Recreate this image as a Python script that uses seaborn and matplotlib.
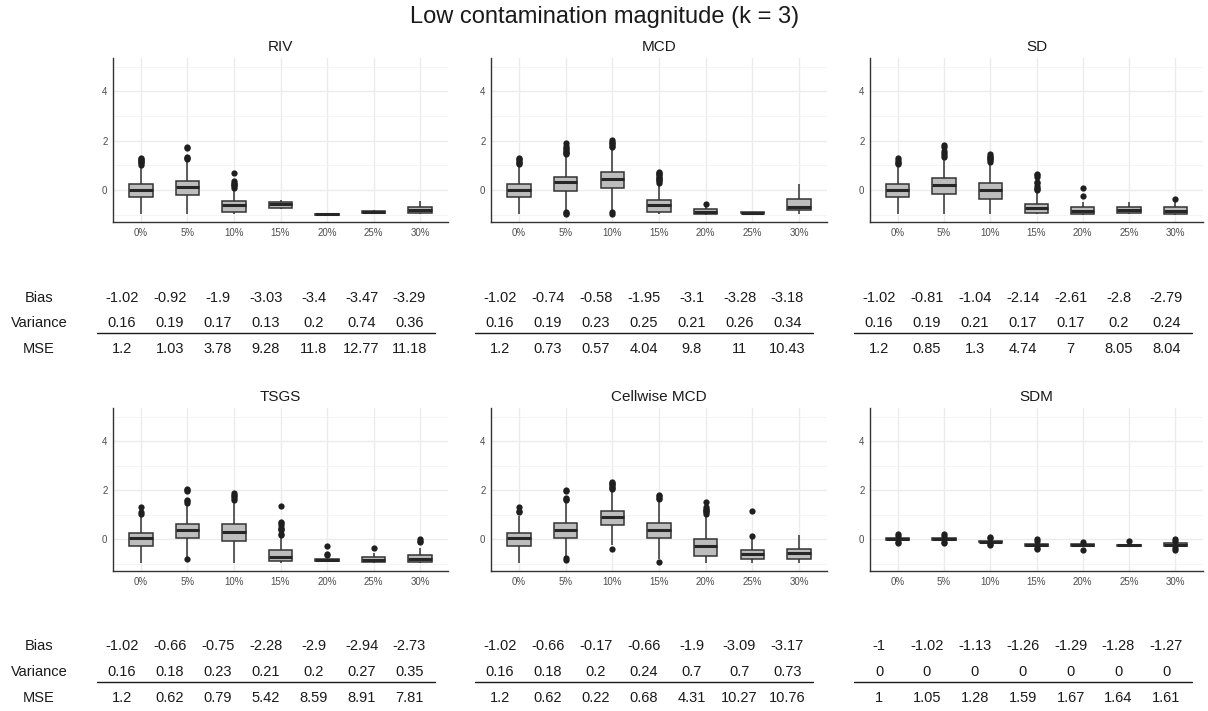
import numpy as np
import pandas as pd
import matplotlib
matplotlib.use("Agg")
import matplotlib.pyplot as plt
from matplotlib.lines import Line2D
from matplotlib.ticker import FixedLocator
import seaborn as sns

# ---------------- data ----------------
levels = ["0%", "5%", "10%", "15%", "20%", "25%", "30%"]
methods = ["RIV", "MCD", "SD", "TSGS", "Cellwise MCD", "SDM"]
suptitle = "Low contamination magnitude (k = 3)"
row_labels = ["Bias", "Variance", "MSE"]

# box summaries: whisker low, Q1, median, Q3, whisker high, outliers
riv_lo = [-0.97, -0.97, -0.95, -0.76, -1.01, -0.93, -0.95]
riv_q1 = [-0.27, -0.18, -0.88, -0.72, -1.00, -0.92, -0.92]
riv_med = [0.0, 0.12, -0.61, -0.57, -0.98, -0.88, -0.81]
riv_q3 = [0.23, 0.38, -0.45, -0.50, -0.96, -0.84, -0.69]
riv_hi = [0.98, 1.18, 0.05, -0.41, -0.95, -0.79, -0.45]
riv_out = [[1.03, 1.08, 1.13, 1.18, 1.23, 1.28, 1.32], [1.25, 1.3, 1.35, 1.7, 1.75],
           [0.1, 0.15, 0.2, 0.25, 0.3, 0.35, 0.7], [], [], [], []]

mcd_lo = [-0.95, -0.8, -0.85, -0.95, -0.99, -0.94, -0.95]
mcd_q1 = [-0.27, -0.03, 0.07, -0.88, -0.97, -0.935, -0.82]
mcd_med = [0.0, 0.31, 0.47, -0.61, -0.88, -0.92, -0.68]
mcd_q3 = [0.23, 0.53, 0.72, -0.41, -0.78, -0.905, -0.34]
mcd_hi = [1.0, 1.35, 1.65, 0.25, -0.68, -0.9, 0.24]
mcd_out = [[1.05, 1.1, 1.15, 1.2, 1.25, 1.3],
           [-0.87, -0.92, -0.96, 1.45, 1.5, 1.55, 1.6, 1.65, 1.7, 1.8, 1.9],
           [-0.9, -0.95, 1.75, 1.8, 1.85, 1.9, 1.95, 2.03],
           [0.3, 0.35, 0.4, 0.45, 0.5, 0.55, 0.6, 0.65, 0.7, 0.75],
           [-0.56], [], []]

sd_lo = [-0.97, -0.97, -0.97, -0.97, -0.99, -0.95, -0.99]
sd_q1 = [-0.27, -0.14, -0.34, -0.92, -0.97, -0.92, -0.97]
sd_med = [0.0, 0.22, 0.0, -0.73, -0.85, -0.81, -0.84]
sd_q3 = [0.23, 0.49, 0.30, -0.55, -0.69, -0.69, -0.69]
sd_hi = [1.0, 1.3, 1.1, -0.05, -0.47, -0.5, -0.47]
sd_out = [[1.05, 1.1, 1.15, 1.2, 1.3], [1.35, 1.42, 1.5, 1.6, 1.75, 1.83],
          [1.15, 1.2, 1.25, 1.3, 1.35, 1.4, 1.45],
          [0.0, 0.05, 0.1, 0.17, 0.3, 0.34, 0.55, 0.6, 0.65],
          [-0.24, 0.1], [], [-0.34]]

tsgs_lo = [-0.95, -0.7, -0.95, -0.95, -0.92, -0.96, -0.97]
tsgs_q1 = [-0.27, 0.05, -0.08, -0.87, -0.88, -0.94, -0.94]
tsgs_med = [0.06, 0.4, 0.3, -0.71, -0.85, -0.85, -0.8]
tsgs_q3 = [0.27, 0.62, 0.62, -0.44, -0.82, -0.74, -0.63]
tsgs_hi = [0.95, 1.45, 1.55, 0.1, -0.8, -0.54, -0.36]
tsgs_out = [[1.05, 1.1, 1.3], [-0.8, 1.5, 1.55, 1.6, 1.95, 2.0, 2.05],
            [1.6, 1.7, 1.75, 1.8, 1.9],
            [0.17, 0.22, 0.38, 0.42, 0.47, 0.6, 0.67, 0.72, 1.37],
            [-0.6, -0.65, -0.28], [-0.35], [-0.1, -0.05, 0.0]]

cw_lo = [-0.95, -0.7, -0.25, -0.8, -0.95, -0.95, -0.95]
cw_q1 = [-0.27, 0.07, 0.57, 0.07, -0.68, -0.81, -0.81]
cw_med = [0.06, 0.4, 0.92, 0.4, -0.27, -0.61, -0.57]
cw_q3 = [0.27, 0.66, 1.16, 0.66, 0.03, -0.45, -0.41]
cw_hi = [0.95, 1.5, 2.0, 1.55, 1.0, 0.05, 0.16]
cw_out = [[1.1, 1.15, 1.3], [-0.78, -0.83, 1.6, 1.65, 1.7, 1.95, 2.0],
          [-0.41, 2.05, 2.1, 2.15, 2.2, 2.25, 2.3, 2.35],
          [-0.92, 1.65, 1.7, 1.75, 1.82],
          [1.05, 1.1, 1.15, 1.2, 1.25, 1.3, 1.52], [0.12, 1.17], []]

sdm_lo = [-0.08, -0.08, -0.15, -0.3, -0.29, -0.27, -0.32]
sdm_q1 = [-0.03, -0.03, -0.12, -0.27, -0.27, -0.26, -0.28]
sdm_med = [0.02, 0.01, -0.1, -0.22, -0.24, -0.24, -0.22]
sdm_q3 = [0.07, 0.06, -0.07, -0.17, -0.2, -0.22, -0.16]
sdm_hi = [0.12, 0.11, -0.03, -0.12, -0.16, -0.19, -0.11]
sdm_out = [[0.15, 0.2, -0.1, -0.13], [0.15, 0.2, -0.1, -0.14], [0.05, 0.1, -0.2, -0.23],
           [-0.05, 0.0, -0.35, -0.4], [-0.12, -0.42], [-0.05], [0.0, -0.05, -0.35, -0.42]]

# tables
riv_bias = [-1.02, -0.92, -1.9, -3.03, -3.4, -3.47, -3.29]
riv_var = [0.16, 0.19, 0.17, 0.13, 0.2, 0.74, 0.36]
riv_mse = [1.2, 1.03, 3.78, 9.28, 11.8, 12.77, 11.18]
mcd_bias = [-1.02, -0.74, -0.58, -1.95, -3.1, -3.28, -3.18]
mcd_var = [0.16, 0.19, 0.23, 0.25, 0.21, 0.26, 0.34]
mcd_mse = [1.2, 0.73, 0.57, 4.04, 9.8, 11, 10.43]
sd_bias = [-1.02, -0.81, -1.04, -2.14, -2.61, -2.8, -2.79]
sd_var = [0.16, 0.19, 0.21, 0.17, 0.17, 0.2, 0.24]
sd_mse = [1.2, 0.85, 1.3, 4.74, 7, 8.05, 8.04]
tsgs_bias = [-1.02, -0.66, -0.75, -2.28, -2.9, -2.94, -2.73]
tsgs_var = [0.16, 0.18, 0.23, 0.21, 0.2, 0.27, 0.35]
tsgs_mse = [1.2, 0.62, 0.79, 5.42, 8.59, 8.91, 7.81]
cw_bias = [-1.02, -0.66, -0.17, -0.66, -1.9, -3.09, -3.17]
cw_var = [0.16, 0.18, 0.2, 0.24, 0.7, 0.7, 0.73]
cw_mse = [1.2, 0.62, 0.22, 0.68, 4.31, 10.27, 10.76]
sdm_bias = [-1, -1.02, -1.13, -1.26, -1.29, -1.28, -1.27]
sdm_var = [0, 0, 0, 0, 0, 0, 0]
sdm_mse = [1, 1.05, 1.28, 1.59, 1.67, 1.64, 1.61]

box_sets = [
    (riv_lo, riv_q1, riv_med, riv_q3, riv_hi, riv_out),
    (mcd_lo, mcd_q1, mcd_med, mcd_q3, mcd_hi, mcd_out),
    (sd_lo, sd_q1, sd_med, sd_q3, sd_hi, sd_out),
    (tsgs_lo, tsgs_q1, tsgs_med, tsgs_q3, tsgs_hi, tsgs_out),
    (cw_lo, cw_q1, cw_med, cw_q3, cw_hi, cw_out),
    (sdm_lo, sdm_q1, sdm_med, sdm_q3, sdm_hi, sdm_out),
]
table_sets = [
    (riv_bias, riv_var, riv_mse), (mcd_bias, mcd_var, mcd_mse), (sd_bias, sd_var, sd_mse),
    (tsgs_bias, tsgs_var, tsgs_mse), (cw_bias, cw_var, cw_mse), (sdm_bias, sdm_var, sdm_mse),
]

# ---------------- style ----------------
sns.set_style("white")
plt.rcParams["font.family"] = ["Liberation Sans", "DejaVu Sans"]

W, H = 1208, 711
fig = plt.figure(figsize=(W / 100, H / 100), dpi=100)

col_px = [(113, 448), (491, 827), (870, 1203)]
row_px = [(58, 222), (408, 571)]

M, K = 60, 41  # block sizes so the box statistics reproduce the read summaries


def expand(lo, q1, med, q3, hi):
    return [lo] + [q1] * M + [med] * K + [q3] * M + [hi]


for i, name in enumerate(methods):
    r, c = divmod(i, 3)
    L, R = col_px[c]
    T, B = row_px[r]
    ax = fig.add_axes([L / W, 1 - B / H, (R - L) / W, (B - T) / H])

    lo, q1, med, q3, hi, outs = box_sets[i]
    recs = []
    orecs = []
    for j, lev in enumerate(levels):
        for v in expand(lo[j], q1[j], med[j], q3[j], hi[j]):
            recs.append((lev, v))
        for v in outs[j]:
            orecs.append((lev, v))
    df = pd.DataFrame(recs, columns=["level", "value"])
    odf = pd.DataFrame(orecs, columns=["level", "value"])

    sns.boxplot(data=df, x="level", y="value", order=levels, color="#bdbdbd",
                saturation=1, width=0.5, linewidth=1.1, linecolor="#333333",
                whis=(0, 100), showfliers=False, showcaps=False,
                medianprops=dict(linewidth=2.2, color="#262626"), ax=ax)
    sns.stripplot(data=odf, x="level", y="value", order=levels, jitter=False,
                  color="#1f1f1f", size=4.5, linewidth=0, ax=ax, zorder=3)

    ax.set_xlim(-0.6, 6.6)
    ax.set_ylim(-1.29, 5.35)
    ax.set_yticks([0, 2, 4])
    ax.yaxis.set_minor_locator(FixedLocator([-1, 1, 3, 5]))
    ax.set_axisbelow(True)
    ax.grid(True, axis="y", which="major", color="#ebebeb", lw=1.0)
    ax.grid(True, axis="y", which="minor", color="#f2f2f2", lw=0.6)
    ax.grid(True, axis="x", which="major", color="#ebebeb", lw=1.0)
    ax.set_xlabel("")
    ax.set_ylabel("")
    ax.tick_params(axis="both", which="both", length=0, labelsize=7,
                   labelcolor="#4d4d4d", pad=4)
    for s in ["top", "right"]:
        ax.spines[s].set_visible(False)
    for s in ["left", "bottom"]:
        ax.spines[s].set_color("#333333")
        ax.spines[s].set_linewidth(1.0)
    ax.set_title(name, fontsize=11, pad=5, color="#1a1a1a")

    # table below panel
    bias, var, mse = table_sets[i]
    ys = [B + 74.5, B + 100, B + 126]
    for vals, yc in zip((bias, var, mse), ys):
        for j, v in enumerate(vals):
            x = L + 9 + 47.9 * j
            fig.text(x / W, 1 - (yc + 5) / H, f"{v:g}", ha="center", va="baseline",
                     fontsize=10.5, color="#1a1a1a")
    if c == 0:
        for lab, yc in zip(row_labels, ys):
            fig.text(39 / W, 1 - (yc + 5) / H, lab, ha="center", va="baseline",
                     fontsize=10.5, color="#1a1a1a")
    fig.add_artist(Line2D([(L - 16) / W, (L + 322) / W], [1 - (B + 111) / H] * 2,
                          color="#1a1a1a", lw=1.0))

fig.text(605 / W, 1 - 17 / H, suptitle, ha="center", va="center", fontsize=17,
         color="#1a1a1a")

fig.savefig("out.png", dpi=100)
